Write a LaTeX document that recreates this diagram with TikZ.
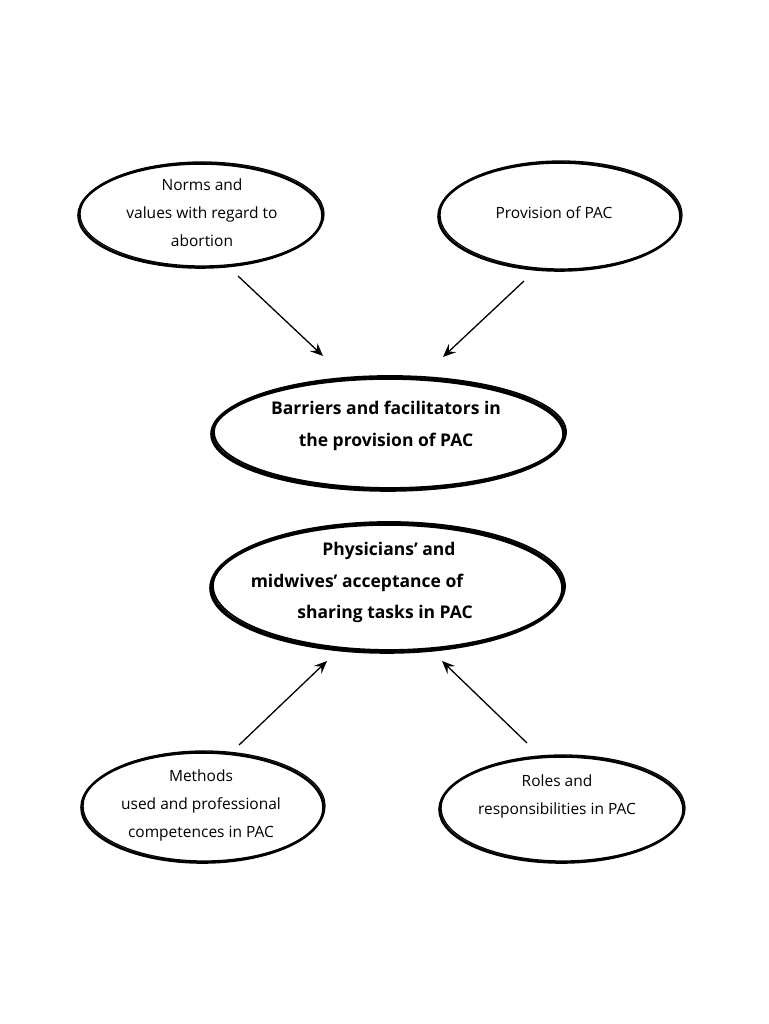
\documentclass[tikz,border=0pt]{standalone}
\usepackage{fontspec}
\setmainfont{Open Sans}[Ligatures=NoCommon]
\usetikzlibrary{shapes.geometric,arrows.meta,calc}
\tikzset{
  oval/.style={ellipse, draw, line width=1.3pt, inner sep=0pt},
  brush/.style={line width=2.6pt},
  bigbrush/.style={line width=3.6pt},
  lbl/.style={font=\fontsize{15.5}{28}\selectfont, align=center, inner sep=0pt},
  blbl/.style={font=\fontsize{17.5}{32}\selectfont\bfseries, align=center, inner sep=0pt},
  arr/.style={line width=1.3pt, -{Stealth[length=13pt,width=11pt,inset=5pt]}}
}
\begin{document}
\begin{tikzpicture}[x=1pt,y=-1pt]
\useasboundingbox[fill=white] (0,0) rectangle (768,1024);
% ovals
\node[oval, minimum width=244pt, minimum height=104pt] (norms) at (202,214) {};
\node[oval, minimum width=242pt, minimum height=108pt] (prov) at (561,215) {};
\node[oval, minimum width=352pt, minimum height=112pt, line width=1.8pt] (bar) at (390,432) {};
\node[oval, minimum width=352pt, minimum height=128pt, line width=1.8pt] (phys) at (389,586) {};
\node[oval, minimum width=242pt, minimum height=110pt] (meth) at (204,806) {};
\node[oval, minimum width=244pt, minimum height=106pt] (roles) at (563,808) {};
% brush thickening
\draw[brush] ($(norms)+(-1.5,1.5)$) ellipse (122 and 52);
\draw[brush] ($(prov)+(-1.5,1.5)$) ellipse (121 and 54);
\draw[bigbrush] ($(bar)+(-2,2)$) ellipse (176 and 56);
\draw[bigbrush] ($(phys)+(-2,2)$) ellipse (176 and 64);
\draw[brush] ($(meth)+(-1.5,1.5)$) ellipse (121 and 55);
\draw[brush] ($(roles)+(-1.5,1.5)$) ellipse (122 and 53);
% texts
\node[lbl] (tnorms) at (202,213) {Norms and\\values with regard to\\abortion};
\node[lbl] (tprov) at (554,213) {Provision of PAC};
\node[blbl] (tbar) at (386,426) {Barriers and facilitators in\\the provision of PAC};
\node[blbl] (tphys1) at (389,551) {Physicians’ and};
\node[blbl] (tphys2) at (357,583) {midwives’ acceptance of};
\node[blbl] (tphys3) at (385,614) {sharing tasks in PAC};
\node[lbl] (tmeth) at (201,805) {Methods\\used and professional\\competences in PAC};
\node[lbl] (troles) at (557,796) {Roles and\\responsibilities in PAC};
% arrows
\draw[arr] ($(norms)+(36,62)$) -- ($(bar)+(-67,-76)$);
\draw[arr] ($(prov)+(-37,66)$) -- ($(bar)+(53,-75)$);
\draw[arr] ($(meth)+(35,-61)$) -- ($(phys)+(-62,75)$);
\draw[arr] ($(roles)+(-36,-65)$) -- ($(phys)+(53,75)$);
\end{tikzpicture}
\end{document}
